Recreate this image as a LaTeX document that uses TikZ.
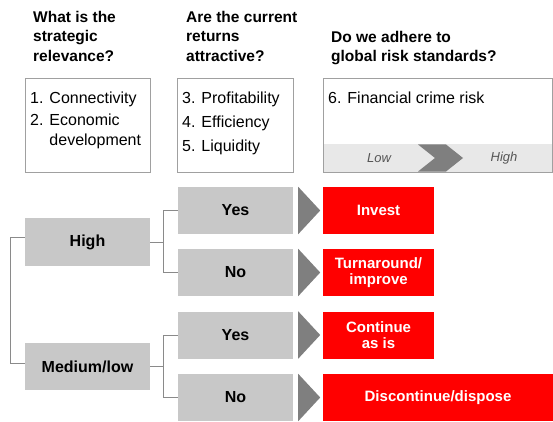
\documentclass[tikz,border=0pt]{standalone}
\usepackage{fontspec}
\setmainfont{Liberation Sans}
\usepackage{tikz}
\usetikzlibrary{positioning, calc}
\definecolor{boxgray}{HTML}{C8C8C8}
\definecolor{arrgray}{HTML}{7F7F7F}
\definecolor{actred}{HTML}{FF0000}
\definecolor{barfill}{HTML}{E8E8E8}
\definecolor{edgegray}{HTML}{A0A0A0}
\definecolor{linkgray}{HTML}{8A8A8A}
\definecolor{lowgray}{HTML}{555555}
\tikzset{
  hdr/.style={anchor=north west, align=left, inner sep=0pt,
    font=\bfseries\fontsize{15.5}{19.5}\selectfont},
  qbox/.style={rectangle, draw=edgegray, line width=0.9pt, fill=white, inner sep=0pt},
  itm/.style={anchor=north west, align=left, inner sep=0pt,
    font=\fontsize{16}{20}\selectfont},
  lvl/.style={rectangle, fill=boxgray, inner sep=0pt, minimum width=125pt, minimum height=47.5pt,
    font=\bfseries\fontsize{16}{18}\selectfont},
  ans/.style={rectangle, fill=boxgray, inner sep=0pt, minimum width=115pt, minimum height=47pt,
    font=\bfseries\fontsize{16}{18}\selectfont},
  act/.style={rectangle, fill=actred, text=white, inner sep=0pt, minimum width=111pt, minimum height=47pt,
    align=center, font=\bfseries\fontsize{15}{16.5}\selectfont},
  tri/.style={fill=arrgray},
  ln/.style={draw=linkgray, line width=1pt},
  scl/.style={text=lowgray, inner sep=0pt, font=\itshape\fontsize{13}{15}\selectfont},
}

\begin{document}
\begin{tikzpicture}[x=1pt, y=-1pt]
\useasboundingbox (0,0) rectangle (553,422);

% questions
\node[hdr] (HA) at (33,11) {What is the\\strategic\\relevance?};
\node[hdr] (HB) at (186,11) {Are the current\\returns\\attractive?};
\node[hdr] (HC) at (331,31) {Do we adhere to\\global risk standards?};

\node[qbox, minimum width=125pt, minimum height=94pt] (QA) at (87.5,125) {};
\node[qbox, minimum width=116pt, minimum height=94pt] (QB) at (235,125) {};
\node[qbox, minimum width=229pt, minimum height=94pt] (QC) at (437.5,125) {};

\node[itm] (TA) at (30,92) {1. Connectivity\\[2pt]2. Economic\\\phantom{2. }development};
\node[itm] (TB) at (182,92) {3. Profitability\\[4pt]4. Efficiency\\[4pt]5. Liquidity};
\node[itm] (TC) at (328,92) {6. Financial crime risk};

% low / high scale
\node[rectangle, fill=barfill, inner sep=0pt, minimum width=228pt, minimum height=27pt] (BAR) at (437.5,158) {};
\fill[arrgray] (418,144.5) -- (446,144.5) -- (463,158) -- (446,171.5) -- (418,171.5) -- (435,158) -- cycle;
\node[scl] (LO) at (379,158) {Low};
\node[scl] (HI) at (504,158) {High};

% decision tree
\node[lvl] (LH) at (87.5,242) {High};
\node[lvl] (LM) at (87.5,366.5) {Medium/low};

\node[ans] (Y1) at (235.5,210.5) {Yes};
\node[ans] (N1) at (235.5,272.5) {No};
\node[ans] (Y2) at (235.5,335) {Yes};
\node[ans] (N2) at (235.5,397.5) {No};

\node[act] (R1) at (378.5,210.5) {Invest};
\node[act] (R2) at (378.5,272.5) {Turnaround/\\improve};
\node[act] (R3) at (378.5,335) {Continue\\as is};
\node[act, minimum width=230pt] (R4) at (438,397.5) {Discontinue/dispose};

\fill[tri] ([xshift=5pt]Y1.north east) -- ([xshift=27pt]Y1.east) -- ([xshift=5pt]Y1.south east) -- cycle;
\fill[tri] ([xshift=5pt]N1.north east) -- ([xshift=27pt]N1.east) -- ([xshift=5pt]N1.south east) -- cycle;
\fill[tri] ([xshift=5pt]Y2.north east) -- ([xshift=27pt]Y2.east) -- ([xshift=5pt]Y2.south east) -- cycle;
\fill[tri] ([xshift=5pt]N2.north east) -- ([xshift=27pt]N2.east) -- ([xshift=5pt]N2.south east) -- cycle;

\coordinate (JH) at ($(LH.east)+(13,0)$);
\coordinate (JM) at ($(LM.east)+(13,0)$);

\draw[ln] ([yshift=5pt]LH.west) -- ++(-14,0) |- ([yshift=3pt]LM.west);
\draw[ln] (LH.east) -- (JH);
\draw[ln] (Y1.west) -| (JH) |- (N1.west);
\draw[ln] (LM.east) -- (JM);
\draw[ln] (Y2.west) -| (JM) |- (N2.west);

\end{tikzpicture}
\end{document}
